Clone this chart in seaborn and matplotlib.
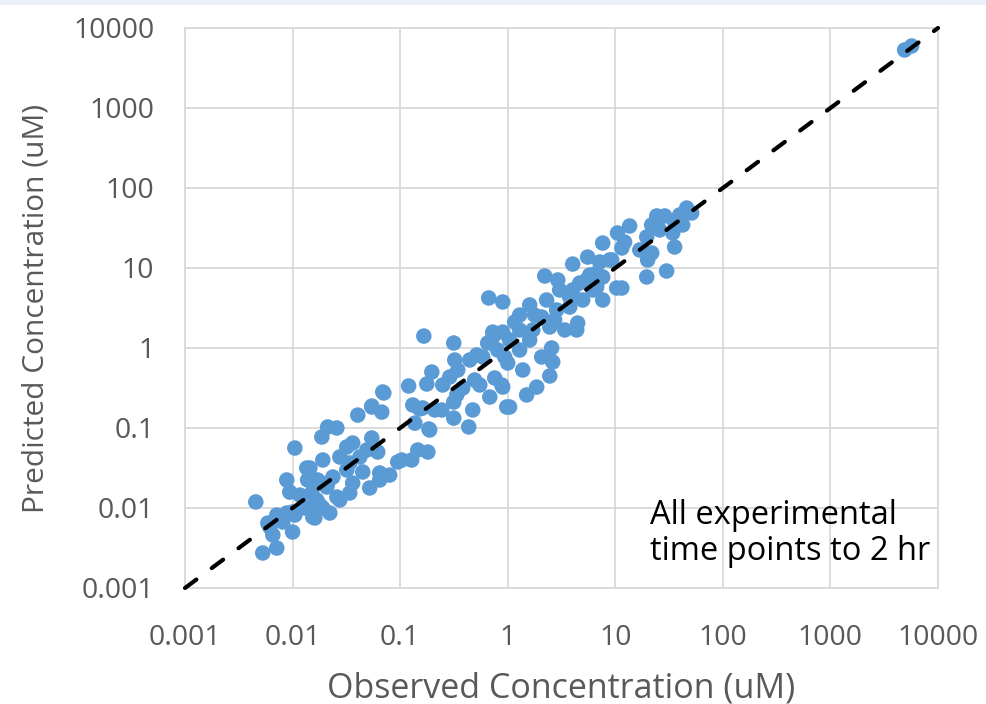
import numpy as np
import pandas as pd
import matplotlib
matplotlib.use("Agg")
import matplotlib.pyplot as plt
import seaborn as sns
from matplotlib.ticker import FixedLocator, FixedFormatter, NullLocator
from matplotlib.patches import Rectangle

# ---------------- data ----------------
low_obs = [0.00528, 0.00713, 0.00455, 0.0100, 0.00655, 0.00614, 0.00713, 0.00883, 0.0100, 0.00883,
           0.00942, 0.0105, 0.01355, 0.0138, 0.0154, 0.0191, 0.0187, 0.0212, 0.0258, 0.0222,
           0.0208, 0.0258, 0.0319, 0.0362, 0.0340, 0.0362, 0.0404, 0.0545, 0.0675, 0.0705,
           0.0545, 0.0619, 0.0449, 0.0521, 0.0646, 0.0800, 0.1035, 0.128, 0.146, 0.181,
           0.137, 0.188, 0.131, 0.162, 0.210, 0.120, 0.177, 0.0422, 0.0275, 0.0319,
           0.0237, 0.0171, 0.0151, 0.0117, 0.0179, 0.0130, 0.0105, 0.00811, 0.00589, 0.0490,
           0.0950, 0.0646, 0.0275, 0.0161, 0.01355, 0.0191, 0.0145, 0.0168, 0.0212, 0.0340]
low_pred = [0.00274, 0.00316, 0.0119, 0.00501, 0.0046, 0.00579, 0.00817, 0.00866, 0.00891, 0.0224,
            0.0158, 0.0562, 0.0316, 0.0224, 0.00772, 0.0398, 0.0772, 0.103, 0.100, 0.00866,
            0.0183, 0.0137, 0.0579, 0.0649, 0.0154, 0.0205, 0.145, 0.183, 0.158, 0.274,
            0.075, 0.0501, 0.0282, 0.0178, 0.0224, 0.0258, 0.0398, 0.0398, 0.0531, 0.0501,
            0.115, 0.0944, 0.194, 0.178, 0.168, 0.335, 0.355, 0.0434, 0.0434, 0.0299,
            0.0244, 0.0224, 0.0154, 0.0145, 0.0109, 0.0100, 0.00817, 0.00668, 0.00649, 0.0531,
            0.0376, 0.0274, 0.0126, 0.0075, 0.0103, 0.0100, 0.0316, 0.0126, 0.0205, 0.0365]

mid_obs = [0.166, 0.315, 0.322, 0.197, 0.0689, 0.0545, 0.152, 0.244, 0.185, 0.315,
           0.434, 0.473, 0.315, 0.249, 0.289, 0.343, 0.382, 0.336, 0.444, 0.550,
           0.681, 0.757, 0.899, 0.980, 0.726, 0.652, 0.807, 0.938, 0.515, 0.666,
           0.899, 2.21, 2.92, 4.02, 5.54, 8.87, 1.60, 1.29, 1.16, 2.30,
           3.39, 4.38, 4.47, 0.726, 0.899, 1.00, 1.38, 2.07, 2.56, 2.62,
           2.46, 0.880, 1.50, 1.86, 1.04, 1.60, 1.71, 1.29, 3.77, 4.98,
           6.72, 7.64, 10.3, 5.42, 4.02, 2.85, 2.07, 2.46, 0.586,
           3.04, 5.78, 1.78, 2.73, 7.16, 1.29, 1.04, 0.493]
mid_pred = [1.41, 1.155, 0.708, 0.501, 0.282, 0.188, 0.173, 0.168, 0.0972, 0.133,
            0.103, 0.168, 0.211, 0.345, 0.434, 0.531, 0.316, 0.259, 0.708, 0.345,
            0.244, 0.422, 0.325, 0.183, 1.58, 1.155, 0.944, 0.772, 0.818, 4.22,
            3.76, 7.94, 7.08, 11.2, 13.7, 12.6, 3.45, 2.58, 2.11, 3.98,
            1.68, 1.68, 2.05, 1.37, 1.58, 0.649, 0.531, 0.772, 1.00, 0.668,
            0.447, 0.345, 0.259, 0.325, 0.183, 1.26, 1.68, 0.944, 3.25, 3.98,
            5.79, 7.72, 5.62, 7.08, 5.31, 2.99, 2.44, 1.83, 0.772,
            5.31, 8.17, 2.58, 2.24, 11.9, 1.68, 1.26, 0.398]

high_obs = [7.64, 10.5, 13.6, 12.2, 11.5, 9.26, 11.5, 19.6, 30.0, 24.3,
            21.8, 25.9, 19.6, 21.8, 20.0, 35.6, 34.2, 35.6, 39.7, 46.1,
            51.3, 42.3, 6.72, 4.67, 6.17, 3.77, 7.64, 16.9, 28.8,
            4898, 5689]
high_pred = [20.5, 27.4, 33.5, 21.1, 17.8, 12.6, 5.62, 7.72, 9.17, 44.7,
             34.5, 29.9, 24.4, 15.4, 12.6, 18.3, 27.4, 37.6, 46.0, 56.2,
             48.7, 34.5, 8.66, 6.49, 5.31, 4.34, 3.98, 16.8, 44.7,
             5309, 5957]

identity_line = [0.001, 10000]
tick_values = [0.001, 0.01, 0.1, 1, 10, 100, 1000, 10000]
tick_labels = ["0.001", "0.01", "0.1", "1", "10", "100", "1000", "10000"]

x_title = "Observed Concentration (uM)"
y_title = "Predicted Concentration (uM)"
note = "All experimental\ntime points to 2 hr"

df = pd.DataFrame({
    "observed": low_obs + mid_obs + high_obs,
    "predicted": low_pred + mid_pred + high_pred,
})

# ---------------- plot ----------------
sns.set_theme(style="white")
plt.rcParams["font.family"] = ["Open Sans", "DejaVu Sans"]

fig = plt.figure(figsize=(9.86, 7.04), dpi=100)
fig.patches.append(Rectangle((0, 1 - 5 / 704), 1, 5 / 704, transform=fig.transFigure,
                             facecolor="#e9f0f9", edgecolor="none", zorder=0))
ax = fig.add_axes([185 / 986, 1 - 588 / 704, (938 - 185) / 986, (588 - 28) / 704])

sns.scatterplot(data=df, x="observed", y="predicted", ax=ax, s=125,
                color="#5b9bd5", edgecolor="none", linewidth=0, alpha=1, zorder=3,
                legend=False)
ax.plot(identity_line, identity_line, color="black", lw=3.0,
        dashes=(3.4, 4.6), dash_capstyle="round", zorder=4, clip_on=False)

ax.set_xscale("log")
ax.set_yscale("log")
ax.set_xlim(identity_line)
ax.set_ylim(identity_line)

for axis in (ax.xaxis, ax.yaxis):
    axis.set_major_locator(FixedLocator(tick_values))
    axis.set_major_formatter(FixedFormatter(tick_labels))
    axis.set_minor_locator(NullLocator())

ax.grid(True, which="major", color="#d9d9d9", lw=1.3)
ax.set_axisbelow(True)
for sp in ax.spines.values():
    sp.set_color("#d9d9d9")
    sp.set_linewidth(1.3)

ax.tick_params(axis="both", length=0, labelsize=20.5, labelcolor="#595959")
ax.tick_params(axis="x", pad=26)
ax.tick_params(axis="y", pad=22)

ax.set_xlabel(x_title, fontsize=24.5, color="#595959", labelpad=14)
ax.set_ylabel(y_title, fontsize=21.5, color="#595959", labelpad=16)

ax.text(0.6175, 0.097, note, transform=ax.transAxes, fontsize=23.5, color="black",
        ha="left", va="center", linespacing=1.12)

fig.savefig("out.png", dpi=100)
